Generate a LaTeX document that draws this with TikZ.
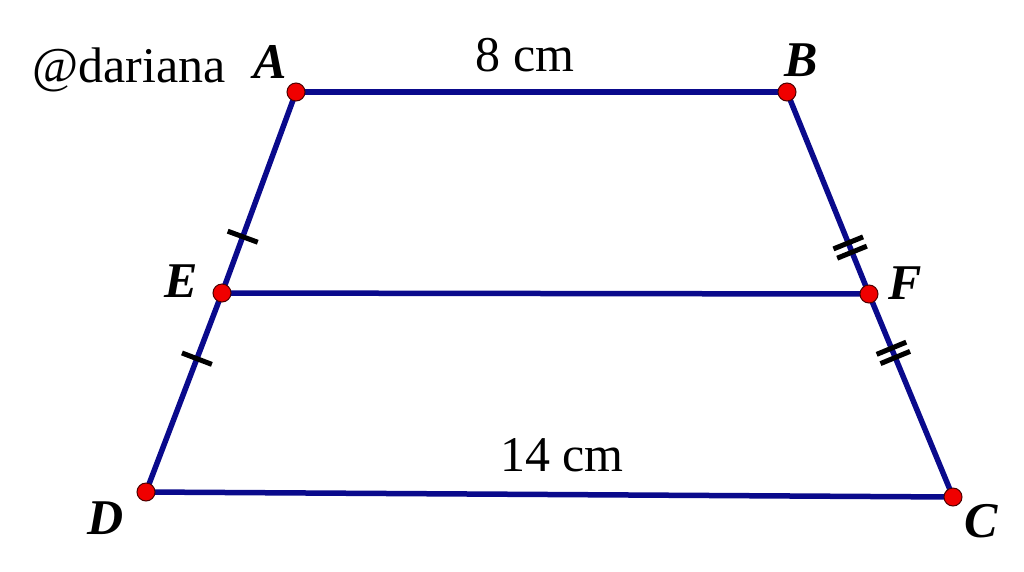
\documentclass[tikz,border=0pt]{standalone}
\usepackage{fontspec}
\setmainfont{Liberation Serif}
\usetikzlibrary{decorations.markings}
\definecolor{segblue}{RGB}{10,10,140}
\definecolor{dotred}{RGB}{240,0,0}
\tikzset{
  seg/.style={draw=segblue, line width=5.5pt},
  dot/.style={circle, fill=dotred, draw=black!70!red, line width=1pt, inner sep=0pt, minimum size=18pt},
  vlabel/.style={font=\fontsize{50}{60}\selectfont\bfseries\itshape},
  txt/.style={font=\fontsize{50}{60}\selectfont},
  onetick/.style={postaction={decorate, decoration={markings,
    mark=at position #1 with {\draw[black, line width=5pt] (0,-16pt) -- (0,16pt);}}}},
  twotick/.style={postaction={decorate, decoration={markings,
    mark=at position #1 with {\draw[black, line width=5pt] (-5pt,-16pt) -- (-5pt,16pt) (5pt,-16pt) -- (5pt,16pt);}}}}
}
\begin{document}
\begin{tikzpicture}[x=1pt, y=-1pt]
\useasboundingbox (0,0) rectangle (1024,571);
% vertices
\coordinate (A) at (296,92);
\coordinate (B) at (787,92);
\coordinate (E) at (222,293);
\coordinate (F) at (869,294);
\coordinate (D) at (146,492);
\coordinate (C) at (953,497);
% sides
\draw[seg] (A) -- (B);
\draw[seg] (E) -- (F);
\draw[seg] (D) -- (C);
\draw[seg, onetick=.72] (A) -- (E);
\draw[seg, onetick=.33] (E) -- (D);
\draw[seg, twotick=.77] (B) -- (F);
\draw[seg, twotick=.29] (F) -- (C);
% points
\foreach \p in {A,B,C,D,E,F}
  \node[dot] (d\p) at (\p) {};
% labels
\node[vlabel] (lA) at (270,62) {A};
\node[vlabel] (lB) at (801,60) {B};
\node[vlabel] (lE) at (181,281) {E};
\node[vlabel] (lF) at (905,283) {F};
\node[vlabel] (lD) at (106,518) {D};
\node[vlabel] (lC) at (981,521) {C};
\node[txt] (top) at (525,55) {8 cm};
\node[txt] (bot) at (562,455) {14 cm};
\node[txt] (sig) at (129,70) {@dariana};
\end{tikzpicture}
\end{document}
